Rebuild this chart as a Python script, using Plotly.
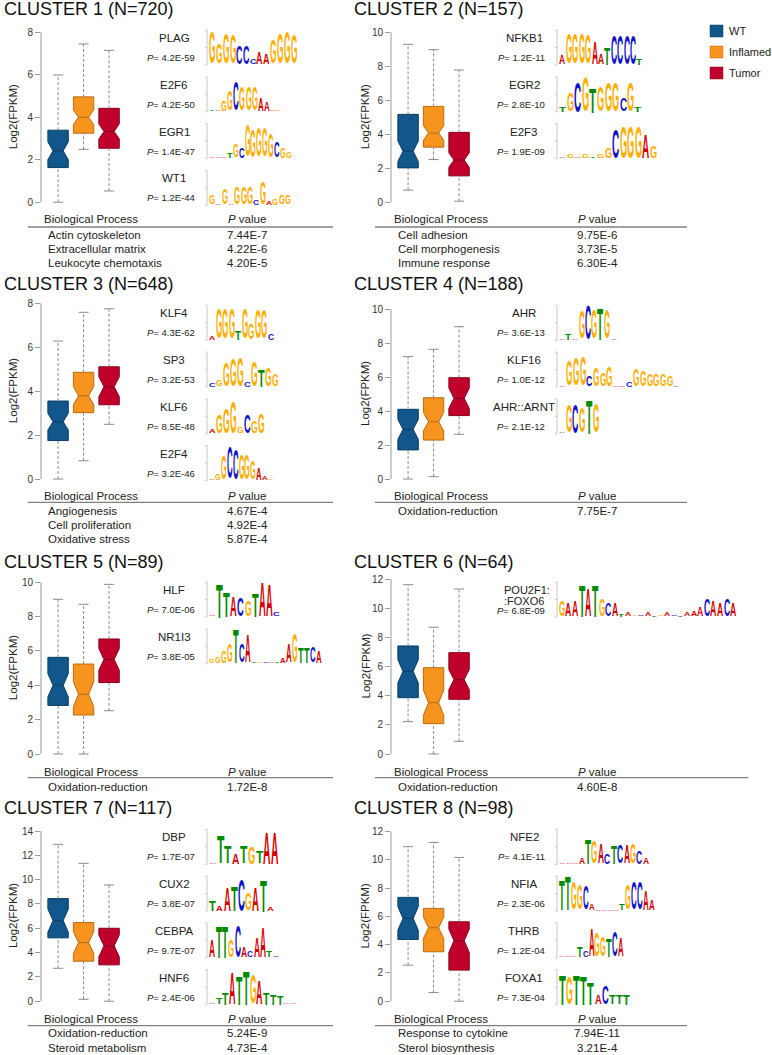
import json
import plotly.graph_objects as go

W, H = 772, 1055

# ---------------- data ----------------
groups = ["WT", "Inflamed", "Tumor"]
titles = ["CLUSTER 1 (N=720)", "CLUSTER 2 (N=157)", "CLUSTER 3 (N=648)", "CLUSTER 4 (N=188)",
          "CLUSTER 5 (N=89)", "CLUSTER 6 (N=64)", "CLUSTER 7 (N=117)", "CLUSTER 8 (N=98)"]

# box statistics per cluster, order WT, Inflamed, Tumor
lower = [[0.0, 2.49, 0.53], [0.71, 2.51, 0.06], [0.0, 0.83, 2.49], [0.0, 0.14, 2.63],
         [0.0, 0.0, 2.52], [2.22, 0.0, 0.87], [2.71, 0.16, 0.0], [2.55, 0.61, 0.0]]
q1 = [[1.63, 3.25, 2.54], [2.02, 3.24, 1.55], [1.75, 3.02, 3.38], [1.71, 2.29, 3.73],
      [2.83, 2.27, 4.16], [3.86, 2.08, 3.75], [5.21, 3.29, 2.99], [4.37, 3.50, 2.20]]
median = [[2.42, 4.00, 3.33], [3.00, 4.07, 2.48], [2.61, 3.79, 4.20], [2.92, 3.37, 4.75],
          [4.00, 3.48, 5.51], [5.67, 3.52, 5.10], [6.63, 4.82, 4.55], [5.86, 5.20, 4.28]]
q3 = [[3.39, 4.96, 4.42], [5.17, 5.64, 4.11], [3.55, 4.86, 5.11], [4.10, 4.78, 5.96],
      [5.63, 5.24, 6.70], [7.41, 5.92, 6.95], [8.44, 6.47, 6.00], [7.35, 6.57, 5.62]]
upper = [[5.99, 7.45, 7.15], [9.29, 8.98, 7.78], [6.28, 7.59, 7.75], [7.20, 7.63, 8.96],
         [9.01, 8.72, 9.88], [11.61, 8.69, 11.31], [12.90, 11.34, 9.56], [10.94, 11.24, 10.18]]
notch = [[0.42, 0.35, 0.36], [0.60, 0.43, 0.43], [0.38, 0.42, 0.45], [0.59, 0.55, 0.60],
         [0.68, 0.73, 0.63], [0.80, 0.87, 0.69], [0.95, 0.90, 0.90], [0.83, 0.77, 0.83]]
top_tick = [8, 10, 8, 10, 10, 12, 14, 12]

motif_names = [["PLAG", "E2F6", "EGR1", "WT1"], ["NFKB1", "EGR2", "E2F3"],
               ["KLF4", "SP3", "KLF6", "E2F4"], ["AHR", "KLF16", "AHR::ARNT"],
               ["HLF", "NR1I3"], ["POU2F1:<br>:FOXO6"],
               ["DBP", "CUX2", "CEBPA", "HNF6"], ["NFE2", "NFIA", "THRB", "FOXA1"]]
motif_p = [["4.2E-59", "4.2E-50", "1.4E-47", "1.2E-44"], ["1.2E-11", "2.8E-10", "1.9E-09"],
           ["4.3E-62", "3.2E-53", "8.5E-48", "3.2E-46"], ["3.6E-13", "1.0E-12", "2.1E-12"],
           ["7.0E-06", "3.8E-05"], ["6.8E-09"],
           ["1.7E-07", "3.8E-07", "9.7E-07", "2.4E-06"], ["4.1E-11", "2.3E-06", "1.2E-04", "7.3E-04"]]

# sequence logos: dominant letter per position and its relative height (0-1)
logo_letters = [
    ["GGGGCCCAAGGGG", "TAGGCGGGAAAG", "AAATGCGGGGGCGG", "GAGAGGGCGAGGG"],
    ["AGGGGAATCCCCT", "TGCGTGGGCGT", "AGAGTGGCGGGAG"],
    ["AGGGTGGGGC", "CGGGGCGTGG", "AGGGGCGG", "AGGCCGGGAAG"],
    ["ATAGCGTGA", "AGGGCGGGAACGGGGGGA", "AGCGTG"],
    ["ATTACGTAAC", "GGGGTCATGCATAAGTTCA"],
    ["GAATATGCATAGCATGACTAAACAACA"],
    ["ATTATGTAA", "TAATCGATA", "ATTGCACAATC", "ATTATTGATTTAA"],
    ["AAAATGACTCAGCA", "TTGGCAAAAATGCCAA", "AAATCAGGTCA", "TGTTTACTTT"],
]
logo_heights = [
    [[0.95, 0.6, 0.9, 0.85, 0.55, 0.55, 0.15, 0.35, 0.3, 0.7, 0.9, 0.95, 0.85],
     [0.05, 0.05, 0.3, 0.6, 0.85, 0.7, 0.7, 0.7, 0.4, 0.25, 0.05, 0.05],
     [0.03, 0.03, 0.05, 0.15, 0.4, 0.3, 0.95, 0.8, 0.85, 0.85, 0.7, 0.45, 0.3, 0.2],
     [0.25, 0.05, 0.45, 0.05, 0.5, 0.5, 0.5, 0.15, 0.65, 0.1, 0.2, 0.25, 0.25]],
    [[0.25, 0.9, 0.9, 0.9, 0.85, 0.65, 0.3, 0.5, 0.85, 0.85, 0.85, 0.85, 0.2],
     [0.15, 0.55, 0.9, 1.0, 0.75, 0.75, 0.85, 0.85, 0.4, 0.85, 0.15],
     [0.05, 0.1, 0.05, 0.1, 0.05, 0.1, 0.3, 0.85, 0.95, 0.95, 0.95, 0.7, 0.35]],
    [[0.1, 0.9, 0.9, 0.9, 0.25, 0.9, 0.45, 0.85, 0.85, 0.2],
     [0.1, 0.2, 0.7, 0.8, 0.85, 0.15, 0.75, 0.5, 0.55, 0.35],
     [0.1, 0.55, 0.75, 0.95, 0.2, 0.55, 0.35, 0.6],
     [0.05, 0.2, 0.7, 0.95, 0.9, 0.75, 0.75, 0.55, 0.35, 0.1, 0.05]],
    [[0.05, 0.2, 0.05, 0.8, 1.0, 0.85, 0.95, 0.85, 0.05],
     [0.05, 0.75, 0.8, 0.85, 0.3, 0.55, 0.4, 0.6, 0.05, 0.05, 0.15, 0.5, 0.45, 0.35, 0.35, 0.35, 0.3, 0.05],
     [0.05, 0.8, 0.85, 0.75, 1.0, 0.85]],
    [[0.05, 1.0, 0.75, 0.6, 0.55, 0.45, 0.7, 1.0, 0.95, 0.1],
     [0.1, 0.2, 0.35, 0.55, 1.0, 0.55, 0.8, 0.02, 0.02, 0.02, 0.02, 0.02, 0.15, 0.55, 0.85, 0.45, 0.45, 0.45, 0.35]],
    [[0.45, 0.4, 0.45, 0.95, 0.8, 0.95, 0.5, 0.4, 0.4,
      0.08, 0.1, 0.05, 0.05, 0.1, 0.05, 0.05, 0.1, 0.05, 0.05, 0.1,
      0.15, 0.25, 0.5, 0.45, 0.4, 0.5, 0.4]],
    [[0.05, 0.8, 0.5, 0.3, 0.5, 0.5, 0.35, 0.95, 0.95],
     [0.3, 0.15, 0.7, 0.75, 0.95, 0.5, 0.7, 0.95, 0.1],
     [0.5, 0.95, 0.95, 0.5, 0.95, 0.3, 0.2, 0.6, 0.9, 0.2, 0.05],
     [0.05, 0.2, 0.35, 0.95, 0.85, 1.0, 0.85, 0.7, 0.35, 0.3, 0.25, 0.05, 0.03]],
    [[0.05, 0.05, 0.05, 0.2, 0.75, 0.65, 0.6, 0.3, 0.55, 0.55, 0.55, 0.6, 0.4, 0.2],
     [0.9, 1.0, 0.8, 0.75, 0.7, 0.2, 0.01, 0.01, 0.01, 0.01, 0.2, 0.75, 0.8, 0.8, 0.6, 0.3],
     [0.05, 0.05, 0.05, 0.3, 0.2, 0.8, 0.7, 0.6, 0.55, 0.75, 0.55],
     [0.9, 0.8, 0.9, 0.85, 0.65, 0.25, 0.55, 0.25, 0.25, 0.3]],
]

bp_terms = [["Actin cytoskeleton", "Extracellular matrix", "Leukocyte chemotaxis"],
            ["Cell adhesion", "Cell morphogenesis", "Immune response"],
            ["Angiogenesis", "Cell proliferation", "Oxidative stress"],
            ["Oxidation-reduction"], ["Oxidation-reduction"], ["Oxidation-reduction"],
            ["Oxidation-reduction", "Steroid metabolism"],
            ["Response to cytokine", "Sterol biosynthesis"]]
bp_pvalues = [["7.44E-7", "4.22E-6", "4.20E-5"], ["9.75E-6", "3.73E-5", "6.30E-4"],
              ["4.67E-4", "4.92E-4", "5.87E-4"], ["7.75E-7"], ["1.72E-8"], ["4.60E-8"],
              ["5.24E-9", "4.73E-4"], ["7.94E-11", "3.21E-4"]]

# ---------------- style / layout constants ----------------
fill_colors = ["#11578C", "#F7941E", "#C0002A"]
edge_colors = ["#0B3D63", "#B86C12", "#86001D"]
letter_colors = {"A": "#D40000", "C": "#1212C8", "G": "#FFAE00", "T": "#008A00"}
letter_wr = {"A": 0.722, "C": 0.722, "G": 0.778, "T": 0.611}
FONT = "Liberation Sans, Arial, Helvetica, sans-serif"

col_off = [0, 350]
zero_px = [202.2, 479.0, 754.0, 1001.2]
top_px = [32.3, 32.3, 303.3, 309.0, 582.3, 579.0, 831.0, 831.7]
title_y = [9, 284, 562, 808]
name_y0 = [38, 313.3, 590, 837.3]
hdr_y = [219, 496, 771.7, 1019]
rule_y = [227, 502.3, 777.7, 1025.7]
row_y0 = [235, 510.7, 786.7, 1033.3]
logo_w = [[88, 73, 83, 82], [84, 83, 98], [65, 70, 56, 65], [58, 121, 40],
          [71, 113], [178], [70, 65, 70, 88], [90, 96, 65, 71]]
rule_end = [333, 687, 333, 687, 333, 748, 333, 687]
LOGO_H = 34.0


def px(x):
    return x / W


def py(y):
    return 1 - y / H


fig = go.Figure()
ann = []
shp = []
layout_axes = {}
logo_fix = []  # [annotation index, baseline px, target height px, font size]


def text(x, y, s, size, xanchor="center", color="#1a1a1a", angle=0, yanchor="middle"):
    ann.append(dict(x=px(x), y=py(y), xref="paper", yref="paper", text=s, showarrow=False,
                    xanchor=xanchor, yanchor=yanchor, textangle=angle,
                    font=dict(family=FONT, size=size, color=color)))


def hline(x0, x1, y, color, width):
    shp.append(dict(type="line", xref="paper", yref="paper", x0=px(x0), x1=px(x1),
                    y0=py(y), y1=py(y), line=dict(color=color, width=width)))


def vline(x, y0, y1, color, width):
    shp.append(dict(type="line", xref="paper", yref="paper", x0=px(x), x1=px(x),
                    y0=py(y0), y1=py(y1), line=dict(color=color, width=width)))


for i in range(8):
    row, col = i // 2, i % 2
    ox = col_off[col]
    n = i + 1
    xa, ya = ("x", "y") if n == 1 else (f"x{n}", f"y{n}")
    axis_x = 41 + ox
    zp, tp, tv = zero_px[row], top_px[i], top_tick[i]
    scale = (zp - tp) / tv
    pad = 8
    layout_axes[f"xaxis{'' if n == 1 else n}"] = dict(
        domain=[px(axis_x), px(axis_x + 82.6)], range=[0.33, 3.57], visible=False,
        anchor=ya, fixedrange=True)
    layout_axes[f"yaxis{'' if n == 1 else n}"] = dict(
        domain=[py(zp + pad), py(tp - pad)], range=[-pad / scale, tv + pad / scale],
        anchor=xa, tickvals=list(range(0, tv + 1, 2)), ticks="outside", ticklen=5,
        tickcolor="#9a9a9a", tickwidth=1, showline=False, showgrid=False, zeroline=False,
        tickfont=dict(family=FONT, size=10, color="#333"), fixedrange=True)
    shp.append(dict(type="line", xref=f"{xa} domain", x0=0, x1=0, yref=ya, y0=0, y1=tv,
                    line=dict(color="#9a9a9a", width=1)))

    # whiskers (dashed) and staples
    wx, wy, cx, cy = [], [], [], []
    for k in range(3):
        xk = k + 1
        wx += [xk, xk, None, xk, xk, None]
        wy += [q3[i][k], upper[i][k], None, lower[i][k], q1[i][k], None]
        cx += [xk - 0.2, xk + 0.2, None, xk - 0.2, xk + 0.2, None]
        cy += [upper[i][k], upper[i][k], None, lower[i][k], lower[i][k], None]
    fig.add_trace(go.Scatter(x=wx, y=wy, mode="lines", xaxis=xa, yaxis=ya, showlegend=False,
                             hoverinfo="skip", line=dict(color="#8a8a8a", width=1, dash="3px,2px")))
    fig.add_trace(go.Scatter(x=cx, y=cy, mode="lines", xaxis=xa, yaxis=ya, showlegend=False,
                             hoverinfo="skip", line=dict(color="#8a8a8a", width=1)))
    for k in range(3):
        fig.add_trace(go.Box(
            x=[k + 1], q1=[q1[i][k]], median=[median[i][k]], q3=[q3[i][k]],
            lowerfence=[q1[i][k]], upperfence=[q3[i][k]], notched=True,
            notchspan=[notch[i][k]], notchwidth=0.25, width=0.8, whiskerwidth=0,
            fillcolor=fill_colors[k], line=dict(color=edge_colors[k], width=1),
            boxpoints=False, xaxis=xa, yaxis=ya, showlegend=False, hoverinfo="skip",
            name=groups[k]))

    # titles
    text(2 + ox, title_y[row], titles[i], 18, xanchor="left", color="#111")
    text(13 + (352 if col else 0), (zp + tp) / 2, "Log2(FPKM)", 11.5, angle=-90, color="#222")

    # motifs
    for j, name in enumerate(motif_names[i]):
        ny = name_y0[row] + 46.8 * j
        if "<br>" in name:
            a, b = name.split("<br>")
            text(152 + ox, ny, a, 11, xanchor="left", color="#222")
            text(152 + ox, ny + 11, b, 11, xanchor="left", color="#222")
            text(197 + ox, ny + 20, f"<i>P</i>= {motif_p[i][j]}", 9.5, xanchor="right", color="#222")
        else:
            text(174 + ox, ny, name, 11.5, color="#222")
            text(197 + ox, ny + 19.5, f"<i>P</i>= {motif_p[i][j]}", 9.5, xanchor="right", color="#222")
        # logo
        base = ny + 27.0
        top = base - 35
        lx = 209 + ox
        vline(lx - 2, top, base, "#b0b0b0", 0.7)
        for t in (top, (top + base) / 2, base):
            hline(lx - 4, lx - 2, t, "#b0b0b0", 0.7)
        letters = logo_letters[i][j]
        hts = logo_heights[i][j]
        cw = logo_w[i][j] / len(letters)
        for k, (ch, h) in enumerate(zip(letters, hts)):
            f = cw * 0.95 / letter_wr[ch]
            logo_fix.append([len(ann), base - 0.5, max(1.2, h * LOGO_H), f])
            ann.append(dict(x=px(lx + (k + 0.5) * cw), y=py(base), xref="paper",
                            yref="paper", text=f"<b>{ch}</b>", showarrow=False,
                            xanchor="center", yanchor="bottom",
                            font=dict(family=FONT, size=f, color=letter_colors[ch])))

    # biological process table
    text(42 + ox, hdr_y[row], "Biological Process", 11.5, xanchor="left", color="#222")
    text(247 + ox, hdr_y[row], "<i>P</i> value", 11.5, color="#222")
    hline(28 + ox if col == 0 else 375, rule_end[i], rule_y[row], "#808080", 1.3)
    for r, (term, pv) in enumerate(zip(bp_terms[i], bp_pvalues[i])):
        yy = row_y0[row] + 14.2 * r
        text(46 + ox, yy, term, 11.5, xanchor="left", color="#222")
        text(247 + ox, yy, pv, 11.5, color="#222")

# legend
for k, g in enumerate(groups):
    y0 = 25 + 21 * k
    shp.append(dict(type="rect", xref="paper", yref="paper", x0=px(710), x1=px(723),
                    y0=py(y0), y1=py(y0 + 12), fillcolor=fill_colors[k],
                    line=dict(color=edge_colors[k], width=0.5)))
    text(727, y0 + 6, g, 11, xanchor="left", color="#222")

fig.update_layout(
    width=W, height=H, margin=dict(l=0, r=0, t=0, b=0),
    paper_bgcolor="white", plot_bgcolor="rgba(0,0,0,0)",
    showlegend=False, annotations=ann, shapes=shp, boxmode="overlay",
    font=dict(family=FONT), **layout_axes)

# page fix (no body margin) and vertical stretching of logo letters (kept as text)
post = """
document.body.style.margin='0';
(function(){
  var gd=document.getElementById('{plot_id}');
  if(!gd) return;
  var fix=%s;
  var map={};
  fix.forEach(function(f){map[f[0]]=f;});
  var dr=gd.getBoundingClientRect();
  gd.querySelectorAll('g.annotation').forEach(function(g){
    var f=map[+g.getAttribute('data-index')];
    if(!f) return;
    var t=g.querySelector('text.annotation-text');
    if(!t) return;
    var bb=t.getBBox();
    var r=t.getBoundingClientRect();
    var bl=bb.y+0.81*bb.height;
    var pb=(r.top-dr.top)+0.81*r.height;
    var delta=f[1]-pb;
    var s=f[2]/(0.716*f[3]);
    t.setAttribute('transform','translate(0,'+(bl+delta)+') scale(1,'+s+') translate(0,'+(-bl)+')');
  });
})();
""" % json.dumps(logo_fix)

fig.write_html("out.html", post_script=post, config={"displayModeBar": False, "staticPlot": True})
